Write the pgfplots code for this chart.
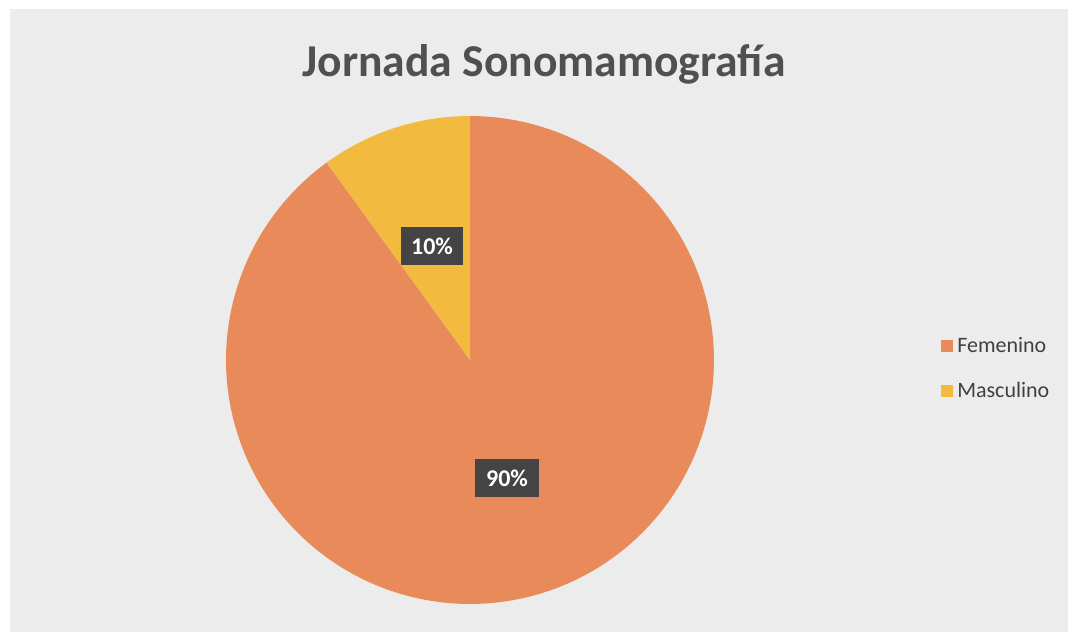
\documentclass[border=0pt]{standalone}
\usepackage{pgfplots}
\pgfplotsset{compat=1.18}
\usepackage{pgfplotstable}
\usepackage{fontspec}
\setmainfont{Carlito}
\definecolor{femcol}{HTML}{E98A5B}
\definecolor{mascol}{HTML}{F2BA3E}
\definecolor{bgcol}{HTML}{ECECEC}
\definecolor{titlecol}{HTML}{505050}
\definecolor{boxcol}{HTML}{444444}

\pgfplotstableread{
label value
Femenino 90
Masculino 10
}\piedata
\pgfplotstablegetelem{0}{value}\of\piedata \let\vF\pgfplotsretval
\pgfplotstablegetelem{1}{value}\of\piedata \let\vM\pgfplotsretval
\pgfmathsetmacro\aM{90+3.6*\vM}

\begin{document}
\begin{tikzpicture}
\useasboundingbox (0,0) rectangle (801pt,474pt);
\fill[white] (0,0) rectangle (801pt,474pt);
\fill[bgcol] (7.5pt,-2pt) rectangle (803pt,467pt);
\begin{axis}[
  at={(0,0)}, anchor=south west,
  scale only axis, width=801pt, height=474pt,
  xmin=0, xmax=1068, ymin=0, ymax=632,
  hide axis, clip=false,
  legend style={at={(axis cs:937,263.5)}, anchor=west, draw=none, fill=none,
    font=\fontsize{16.5pt}{19pt}\selectfont, text=black!75, row sep=14.5pt,
    nodes={inner sep=3pt}},
  legend cell align=left,
  legend image code/.code={\fill[#1] (0pt,-4.5pt) rectangle (9pt,4.5pt);},
]
\addplot[draw=none, fill=femcol, domain=\aM:450, samples=150, variable=\t]
  ({470+244*cos(\t)},{272+244*sin(\t)}) -- (axis cs:470,272) -- cycle;
\addlegendentry{Femenino}
\addplot[draw=none, fill=mascol, domain=90:\aM, samples=30, variable=\t]
  ({470+244*cos(\t)},{272+244*sin(\t)}) -- (axis cs:470,272) -- cycle;
\addlegendentry{Masculino}

\node[fill=boxcol, text=white, font=\bfseries\fontsize{18pt}{20pt}\selectfont,
  minimum width=46.5pt, minimum height=28.5pt, inner sep=0pt]
  at (axis cs:432,386) {\vM\%};
\node[fill=boxcol, text=white, font=\bfseries\fontsize{18pt}{20pt}\selectfont,
  minimum width=48pt, minimum height=28pt, inner sep=0pt]
  at (axis cs:507,154) {\vF\%};
\node[anchor=base, text=titlecol, font=\bfseries\fontsize{34.2pt}{40pt}\selectfont]
  at (axis cs:544,555) {Jornada Sonomamografía};
\end{axis}
\end{tikzpicture}
\end{document}
